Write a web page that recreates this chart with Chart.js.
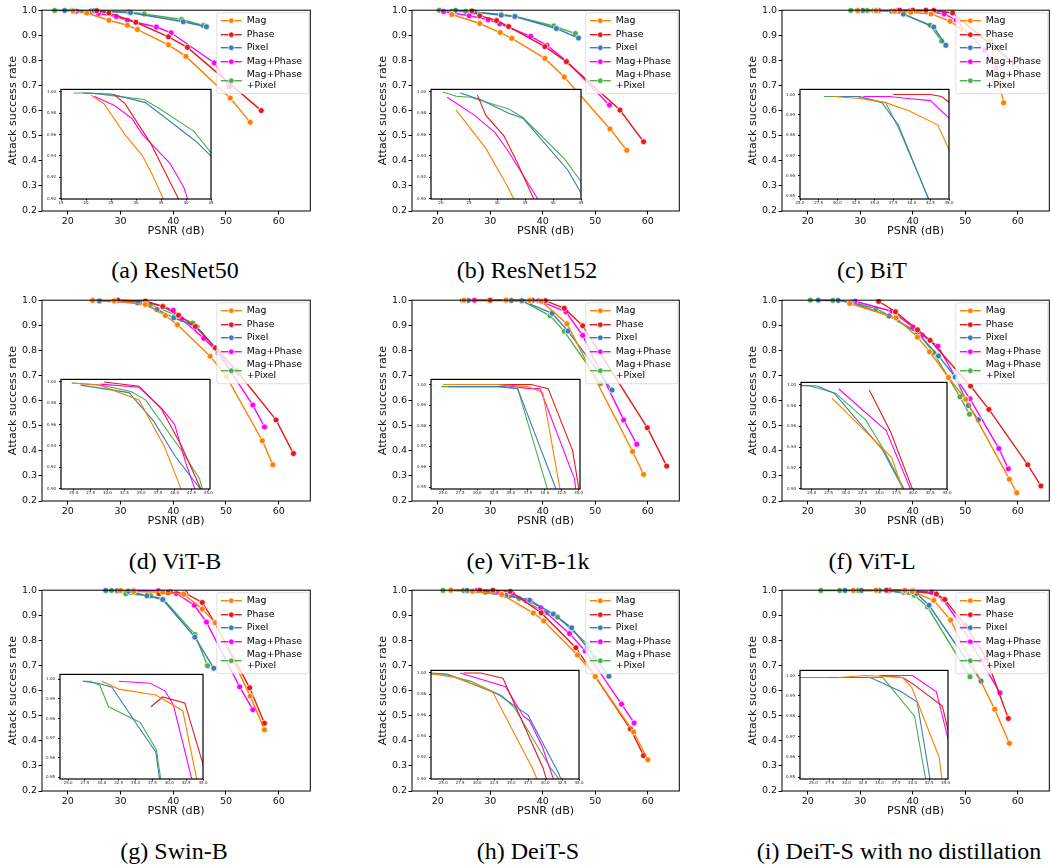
<!DOCTYPE html>
<html>
<head>
<meta charset="utf-8">
<script src="https://cdn.jsdelivr.net/npm/chart.js@4.4.0/dist/chart.umd.min.js"></script>
<style>
  body { margin: 0; background: #fff; }
  #page { position: relative; width: 1052px; height: 867px; overflow: hidden; background: #fff; }
  #page canvas { position: absolute; }
  .cap { position: absolute; font-family: "Liberation Serif", "Times New Roman", serif; font-size: 24px;
         line-height: 26px; color: #000; transform: translateX(-50%); white-space: nowrap; }
</style>
</head>
<body>
<div id="page"></div>
<script>
// series order: Mag, Phase, Pixel, Mag+Phase, Mag+Phase+Pixel
const seriesNames = ["Mag", "Phase", "Pixel", "Mag+Phase", ["Mag+Phase", "+Pixel"]];
const seriesColors = ["#ff7f00", "#e41a1c", "#377eb8", "#ff00ff", "#4daf4a"];

// main axes ticks
const mainXTicks = [20, 30, 40, 50, 60];
const mainYTicks = [0.2, 0.3, 0.4, 0.5, 0.6, 0.7, 0.8, 0.9, 1.0];

// inset ticks
const insetXTicks15 = [15, 20, 25, 30, 35, 40, 45];
const insetXTicks20 = [20, 25, 30, 35, 40, 45];
const insetXTicks25 = [25, 27.5, 30, 32.5, 35, 37.5, 40, 42.5, 45];
const insetYTicks90 = [0.90, 0.92, 0.94, 0.96, 0.98, 1.00];
const insetYTicks95 = [0.95, 0.96, 0.97, 0.98, 0.99, 1.00];

// (a) ResNet50  [PSNR, success rate]
const resnet50Mag = [[21.0,0.997],[23.6,0.989],[27.8,0.960],[31.3,0.940],[33.2,0.923],[39.1,0.862],[42.4,0.816],[50.8,0.650],[54.6,0.554]];
const resnet50Phase = [[25.5,0.998],[27.8,0.989],[32.9,0.952],[39.1,0.894],[42.7,0.852],[56.7,0.600]];
const resnet50Pixel = [[19.4,0.999],[25.0,0.998],[31.9,0.990],[41.9,0.954],[46.3,0.934]];
const resnet50MagPhase = [[21.6,0.996],[25.8,0.987],[29.2,0.975],[31.3,0.960],[36.8,0.933],[39.6,0.910],[47.8,0.790],[50.6,0.695]];
const resnet50All = [[17.5,0.999],[20.8,0.999],[24.4,0.997],[31.6,0.993],[34.5,0.985],[41.6,0.963],[45.7,0.939]];

// (b) ResNet152
const resnet152Mag = [[22.7,0.983],[28.0,0.947],[31.9,0.911],[34.1,0.888],[40.4,0.808],[44.1,0.734],[52.8,0.527],[56.0,0.442]];
const resnet152Phase = [[26.5,0.997],[28.0,0.978],[31.2,0.959],[33.5,0.935],[40.4,0.855],[44.5,0.795],[54.7,0.602],[59.2,0.476]];
const resnet152Pixel = [[23.4,0.999],[27.0,0.993],[32.1,0.980],[34.7,0.975],[42.6,0.927],[46.8,0.889]];
const resnet152MagPhase = [[21.1,0.995],[26.0,0.978],[29.6,0.962],[31.8,0.946],[37.7,0.896],[40.8,0.860],[44.5,0.798],[52.7,0.622]];
const resnet152All = [[20.3,1.000],[22.7,0.996],[25.3,0.995],[27.1,0.992],[32.1,0.984],[34.6,0.976],[42.1,0.937],[46.2,0.907]];

// (c) BiT
const bitMag = [[29.5,0.999],[33.0,0.998],[36.5,0.996],[39.6,0.992],[43.5,0.985],[47.1,0.956],[49.3,0.925],[54.8,0.875],[57.3,0.631]];
const bitPhase = [[37.5,1.000],[40.0,1.000],[42.5,1.000],[44.0,0.999],[47.6,0.989],[59.1,0.790]];
const bitPixel = [[30.5,0.999],[33.0,0.999],[36.0,0.996],[38.2,0.985],[44.0,0.933],[46.3,0.860]];
const bitMagPhase = [[33.5,0.999],[37.0,0.999],[39.5,0.998],[42.5,0.997],[46.0,0.985],[48.3,0.960],[53.7,0.840],[55.9,0.771]];
const bitAll = [[28.2,0.999],[29.6,0.999],[31.3,0.999],[32.6,0.999],[36.5,0.996],[38.3,0.983],[43.3,0.940],[45.5,0.877]];

// (d) ViT-B
const vitbMag = [[24.7,0.999],[28.8,0.997],[34.7,0.983],[38.5,0.939],[40.8,0.902],[47.0,0.777],[50.1,0.695],[56.9,0.440],[58.9,0.344]];
const vitbPhase = [[29.5,1.000],[34.7,0.996],[38.0,0.975],[41.0,0.940],[44.2,0.895],[48.0,0.810],[52.0,0.720],[59.5,0.523],[62.8,0.389]];
const vitbPixel = [[26.0,0.997],[33.2,0.990],[36.9,0.963],[40.1,0.930],[44.5,0.894],[48.5,0.798],[52.4,0.709]];
const vitbMagPhase = [[29.0,0.998],[34.7,0.995],[38.1,0.975],[40.0,0.960],[41.6,0.925],[45.8,0.848],[48.5,0.791],[55.1,0.582],[57.3,0.495]];
const vitbAll = [[24.7,0.999],[29.1,0.997],[33.5,0.991],[35.7,0.983],[41.2,0.934],[43.7,0.909],[48.5,0.798],[51.0,0.720]];

// (e) ViT-B-1k
const vitb1kMag = [[25.0,1.000],[33.0,1.000],[37.5,0.999],[39.7,0.996],[44.6,0.906],[57.1,0.397],[59.2,0.306]];
const vitb1kPhase = [[30.0,1.000],[38.0,1.000],[40.5,0.998],[44.1,0.968],[47.6,0.898],[59.9,0.492],[63.6,0.339]];
const vitb1kPixel = [[25.8,0.999],[29.9,0.999],[34.0,0.999],[36.0,0.998],[41.8,0.948],[44.8,0.877],[53.2,0.642]];
const vitb1kMagPhase = [[27.0,1.000],[33.0,1.000],[37.7,0.998],[39.3,0.998],[44.4,0.954],[47.6,0.860],[55.4,0.523],[57.9,0.426]];
const vitb1kAll = [[24.7,0.999],[29.7,0.999],[33.0,0.999],[36.0,0.998],[41.4,0.938],[44.1,0.876],[51.0,0.668]];

// (f) ViT-L
const vitlMag = [[28.0,0.987],[36.8,0.930],[40.9,0.853],[43.2,0.795],[46.8,0.692],[50.1,0.605],[58.4,0.287],[59.8,0.233]];
const vitlPhase = [[33.5,0.995],[36.7,0.954],[40.9,0.882],[43.3,0.840],[51.0,0.658],[54.5,0.565],[61.9,0.344],[64.4,0.260]];
const vitlPixel = [[22.0,1.000],[25.8,0.999],[28.3,0.992],[35.5,0.937],[40.9,0.870],[44.9,0.778],[48.1,0.694],[50.6,0.580],[52.5,0.524]];
const vitlMagPhase = [[29.0,0.996],[36.0,0.956],[40.0,0.893],[41.8,0.860],[44.8,0.817],[48.1,0.694],[50.9,0.607],[56.4,0.409],[58.2,0.328]];
const vitlAll = [[20.5,1.000],[24.8,0.999],[28.5,0.992],[33.0,0.966],[35.5,0.939],[41.1,0.869],[43.9,0.792],[49.0,0.615],[50.8,0.546]];

// (g) Swin-B
const swinMag = [[30.0,0.999],[32.5,0.995],[38.0,0.992],[42.0,0.984],[45.5,0.925],[48.0,0.870],[54.6,0.578],[57.3,0.444]];
const swinPhase = [[37.3,0.986],[39.0,0.991],[42.3,0.988],[45.5,0.951],[47.9,0.870],[54.5,0.611],[57.3,0.470]];
const swinPixel = [[27.2,0.999],[29.4,0.998],[31.5,0.996],[35.0,0.978],[38.0,0.963],[44.1,0.813],[47.7,0.689]];
const swinMagPhase = [[32.5,0.999],[37.2,0.998],[39.4,0.994],[40.6,0.987],[44.0,0.940],[46.3,0.873],[52.6,0.615],[55.1,0.524]];
const swinAll = [[27.2,0.999],[28.3,0.999],[29.7,0.997],[31.0,0.986],[35.7,0.978],[38.1,0.964],[44.1,0.824],[46.5,0.699]];

// (h) DeiT-S
const deitMag = [[22.5,1.000],[26.6,0.996],[32.2,0.983],[38.2,0.909],[40.2,0.877],[46.6,0.742],[50.0,0.656],[57.3,0.435],[60.0,0.325]];
const deitPhase = [[28.0,1.000],[30.5,1.000],[33.8,0.995],[39.7,0.910],[46.3,0.771],[56.7,0.447],[59.2,0.341]];
const deitPixel = [[22.5,1.000],[25.6,0.999],[33.0,0.980],[37.5,0.960],[42.0,0.905],[45.5,0.850],[48.5,0.770],[52.6,0.657]];
const deitMagPhase = [[27.5,1.000],[34.2,0.987],[36.8,0.959],[37.7,0.955],[39.6,0.930],[45.1,0.827],[48.1,0.758],[55.0,0.546],[57.4,0.471]];
const deitAll = [[21.0,0.999],[24.9,0.999],[29.1,0.992],[33.7,0.978],[35.5,0.967],[40.8,0.910],[42.8,0.893],[48.5,0.785],[49.8,0.730]];

// (i) DeiT-S with no distillation
const deitNdMag = [[28.7,0.999],[33.0,1.000],[38.5,0.999],[39.9,0.994],[44.0,0.960],[47.2,0.881],[55.6,0.526],[58.4,0.390]];
const deitNdPhase = [[35.0,1.000],[38.5,0.999],[40.0,0.996],[44.5,0.985],[46.1,0.963],[50.0,0.860],[54.0,0.730],[58.2,0.489]];
const deitNdPixel = [[27.1,0.999],[30.2,0.999],[33.6,0.999],[38.3,0.992],[40.7,0.987],[43.1,0.940],[53.0,0.638]];
const deitNdMagPhase = [[35.5,1.000],[40.0,1.000],[43.6,0.992],[45.8,0.963],[49.5,0.850],[53.0,0.720],[56.6,0.591]];
const deitNdAll = [[22.5,0.999],[26.1,0.999],[29.6,0.999],[33.6,0.999],[35.5,0.999],[40.3,0.980],[42.8,0.934],[50.9,0.655]];

// layout of the figure: plot boxes [left, top, width, height] in page pixels
const panels = [
  { cap: "(a) ResNet50", capX: 175, capY: 257, plot: [42, 9, 271, 202], inset: [61, 87, 150, 112],
    series: [resnet50Mag, resnet50Phase, resnet50Pixel, resnet50MagPhase, resnet50All],
    ix: [15, 45], iy: [0.8995, 1.0024], ixTicks: insetXTicks15, iyTicks: insetYTicks90, ixDec: 0 },
  { cap: "(b) ResNet152", capX: 527, capY: 257, plot: [412, 9, 270, 202], inset: [431, 87, 150, 112],
    series: [resnet152Mag, resnet152Phase, resnet152Pixel, resnet152MagPhase, resnet152All],
    ix: [18.2, 45], iy: [0.8995, 1.0024], ixTicks: insetXTicks20, iyTicks: insetYTicks90, ixDec: 0 },
  { cap: "(c) BiT", capX: 872, capY: 257, plot: [782, 9, 270, 202], inset: [800, 87, 149, 112],
    series: [bitMag, bitPhase, bitPixel, bitMagPhase, bitAll],
    ix: [25, 45], iy: [0.9487, 1.0025], ixTicks: insetXTicks25, iyTicks: insetYTicks95, ixDec: 1 },
  { cap: "(d) ViT-B", capX: 175, capY: 548, plot: [42, 299, 271, 202], inset: [61, 377, 149, 112],
    series: [vitbMag, vitbPhase, vitbPixel, vitbMagPhase, vitbAll],
    ix: [23.1, 45.25], iy: [0.8995, 1.0024], ixTicks: insetXTicks25, iyTicks: insetYTicks90, ixDec: 1 },
  { cap: "(e) ViT-B-1k", capX: 528, capY: 548, plot: [412, 299, 270, 202], inset: [431, 377, 149, 112],
    series: [vitb1kMag, vitb1kPhase, vitb1kPixel, vitb1kMagPhase, vitb1kAll],
    ix: [23.2, 45.2], iy: [0.9492, 1.0025], ixTicks: insetXTicks25, iyTicks: insetYTicks95, ixDec: 1 },
  { cap: "(f) ViT-L", capX: 872, capY: 548, plot: [782, 299, 270, 202], inset: [801, 380, 146, 109],
    series: [vitlMag, vitlPhase, vitlPixel, vitlMagPhase, vitlAll],
    ix: [23.4, 45], iy: [0.8995, 1.0024], ixTicks: insetXTicks25, iyTicks: insetYTicks90, ixDec: 1 },
  { cap: "(g) Swin-B", capX: 174, capY: 838, plot: [42, 589, 271, 202], inset: [60, 672, 143, 107],
    series: [swinMag, swinPhase, swinPixel, swinMagPhase, swinAll],
    ix: [23.8, 45], iy: [0.9492, 1.0025], ixTicks: insetXTicks25, iyTicks: insetYTicks95, ixDec: 1 },
  { cap: "(h) DeiT-S", capX: 528, capY: 838, plot: [412, 589, 270, 202], inset: [431, 668, 148, 111],
    series: [deitMag, deitPhase, deitPixel, deitMagPhase, deitAll],
    ix: [23.2, 45], iy: [0.8995, 1.0024], ixTicks: insetXTicks25, iyTicks: insetYTicks90, ixDec: 1 },
  { cap: "(i) DeiT-S with no distillation", capX: 899, capY: 838, plot: [782, 589, 270, 202], inset: [800, 668, 148, 111],
    series: [deitNdMag, deitNdPhase, deitNdPixel, deitNdMagPhase, deitNdAll],
    ix: [23.0, 45.35], iy: [0.9492, 1.0025], ixTicks: insetXTicks25, iyTicks: insetYTicks95, ixDec: 1 }
];

const page = document.getElementById("page");
const FONT = "DejaVu Sans";
Chart.defaults.font.family = FONT;

function addCanvas(left, top, w, h) {
  const cv = document.createElement("canvas");
  cv.width = w; cv.height = h;
  cv.style.left = left + "px"; cv.style.top = top + "px";
  cv.style.width = w + "px"; cv.style.height = h + "px";
  page.appendChild(cv);
  return cv;
}

function drawLegend(chart) {
  const a = chart.chartArea, ctx = chart.ctx;
  const bw = 92, bh = 81;
  const bx = a.right - 1.5 - bw, by = a.top + 2.5;
  const rows = [8, 22, 35, 49, 68];
  ctx.save();
  ctx.beginPath();
  ctx.roundRect(bx, by, bw, bh, 2);
  ctx.fillStyle = "rgba(255,255,255,0.8)";
  ctx.fill();
  ctx.strokeStyle = "rgba(204,204,204,0.8)";
  ctx.lineWidth = 0.8;
  ctx.stroke();
  ctx.font = "9.3px '" + FONT + "'";
  ctx.textBaseline = "middle";
  seriesNames.forEach(function (name, i) {
    const y = by + rows[i];
    ctx.strokeStyle = seriesColors[i];
    ctx.lineWidth = 1.4;
    ctx.beginPath(); ctx.moveTo(bx + 4, y); ctx.lineTo(bx + 25, y); ctx.stroke();
    ctx.beginPath(); ctx.arc(bx + 14.5, y, 2.8, 0, Math.PI * 2);
    ctx.fillStyle = seriesColors[i]; ctx.fill();
    ctx.strokeStyle = "#fff"; ctx.lineWidth = 0.7; ctx.stroke();
    ctx.fillStyle = "#000";
    if (Array.isArray(name)) {
      ctx.fillText(name[0], bx + 30, y - 6);
      ctx.fillText(name[1], bx + 30, y + 5);
    } else {
      ctx.fillText(name, bx + 30, y);
    }
  });
  ctx.restore();
}

const framePlugin = {
  id: "frame",
  afterDraw: function (chart) {
    const a = chart.chartArea, ctx = chart.ctx;
    ctx.save();
    ctx.strokeStyle = "#000";
    ctx.lineWidth = chart.options.frameWidth || 1;
    ctx.strokeRect(a.left, a.top, a.right - a.left, a.bottom - a.top);
    ctx.restore();
    if (chart.options.showLegend) drawLegend(chart);
  }
};

const whiteBg = {
  id: "whiteBg",
  beforeDraw: function (chart) {
    const a = chart.chartArea, ctx = chart.ctx;
    ctx.save();
    ctx.fillStyle = "#fff";
    ctx.fillRect(a.left, a.top, a.right - a.left, a.bottom - a.top);
    ctx.restore();
  }
};

function makeMain(p) {
  const WY = 36, HX = 27, PT = 6, PR = 2;
  const [l, t, w, h] = p.plot;
  const cv = addCanvas(l - WY, t - PT, WY + w + PR, PT + h + HX);
  new Chart(cv, {
    type: "line",
    data: {
      datasets: p.series.map(function (s, i) {
        return {
          data: s, borderColor: seriesColors[i], backgroundColor: seriesColors[i],
          borderWidth: 1.4, pointRadius: 3, pointBorderColor: "#fff", pointBorderWidth: 0.7,
          pointBackgroundColor: seriesColors[i], tension: 0, clip: 4
        };
      })
    },
    options: {
      responsive: false, animation: false, devicePixelRatio: 1, showLegend: true,
      layout: { padding: { top: PT, right: PR, left: 0, bottom: 0 } },
      plugins: { legend: { display: false }, tooltip: { enabled: false } },
      scales: {
        x: {
          type: "linear", min: 15.1, max: 66,
          afterBuildTicks: function (s) { s.ticks = mainXTicks.map(function (v) { return { value: v }; }); },
          afterFit: function (s) { s.height = HX; },
          grid: { drawOnChartArea: false, tickLength: 3.5, color: "#000", tickColor: "#000" },
          border: { display: false },
          ticks: { font: { size: 9.5 }, color: "#111", padding: 1, maxRotation: 0, autoSkip: false,
                   callback: function (v) { return v.toFixed(0); } },
          title: { display: true, text: "PSNR (dB)", font: { size: 11.2 }, color: "#111", padding: 0 }
        },
        y: {
          type: "linear", min: 0.2, max: 1.0,
          afterBuildTicks: function (s) { s.ticks = mainYTicks.map(function (v) { return { value: v }; }); },
          afterFit: function (s) { s.width = WY; },
          grid: { drawOnChartArea: false, tickLength: 3.5, color: "#000", tickColor: "#000" },
          border: { display: false },
          ticks: { font: { size: 9.5 }, color: "#111", padding: 1.5, autoSkip: false,
                   callback: function (v) { return v.toFixed(1); } },
          title: { display: true, text: "Attack success rate", font: { size: 11.2 }, color: "#111", padding: 0 }
        }
      }
    },
    plugins: [framePlugin]
  });
}

function makeInset(p) {
  const WY = 16, HX = 9, PT = 3, PR = 6;
  const [l, t, w, h] = p.inset;
  const cv = addCanvas(l - WY, t - PT, WY + w + PR, PT + h + HX);
  new Chart(cv, {
    type: "line",
    data: {
      datasets: p.series.map(function (s, i) {
        return { data: s, borderColor: seriesColors[i], borderWidth: 1.1, pointRadius: 0, tension: 0 };
      })
    },
    options: {
      responsive: false, animation: false, devicePixelRatio: 1, frameWidth: 1.2,
      layout: { padding: { top: PT, right: PR, left: 0, bottom: 0 } },
      plugins: { legend: { display: false }, tooltip: { enabled: false } },
      scales: {
        x: {
          type: "linear", min: p.ix[0], max: p.ix[1],
          afterBuildTicks: function (s) { s.ticks = p.ixTicks.map(function (v) { return { value: v }; }); },
          afterFit: function (s) { s.height = HX; },
          grid: { drawOnChartArea: false, tickLength: 1.5, color: "#000", tickColor: "#000" },
          border: { display: false },
          ticks: { font: { size: 4 }, color: "#222", padding: 0.5, maxRotation: 0, autoSkip: false,
                   callback: function (v) { return v.toFixed(p.ixDec); } }
        },
        y: {
          type: "linear", min: p.iy[0], max: p.iy[1],
          afterBuildTicks: function (s) { s.ticks = p.iyTicks.map(function (v) { return { value: v }; }); },
          afterFit: function (s) { s.width = WY; },
          grid: { drawOnChartArea: false, tickLength: 2, color: "#000", tickColor: "#000" },
          border: { display: false },
          ticks: { font: { size: 4 }, color: "#222", padding: 3, autoSkip: false,
                   callback: function (v) { return v.toFixed(2); } }
        }
      }
    },
    plugins: [whiteBg, framePlugin]
  });
}

panels.forEach(function (p) {
  makeMain(p);
  makeInset(p);
  const c = document.createElement("div");
  c.className = "cap";
  c.textContent = p.cap;
  c.style.left = p.capX + "px";
  c.style.top = p.capY + "px";
  page.appendChild(c);
});
</script>
</body>
</html>
